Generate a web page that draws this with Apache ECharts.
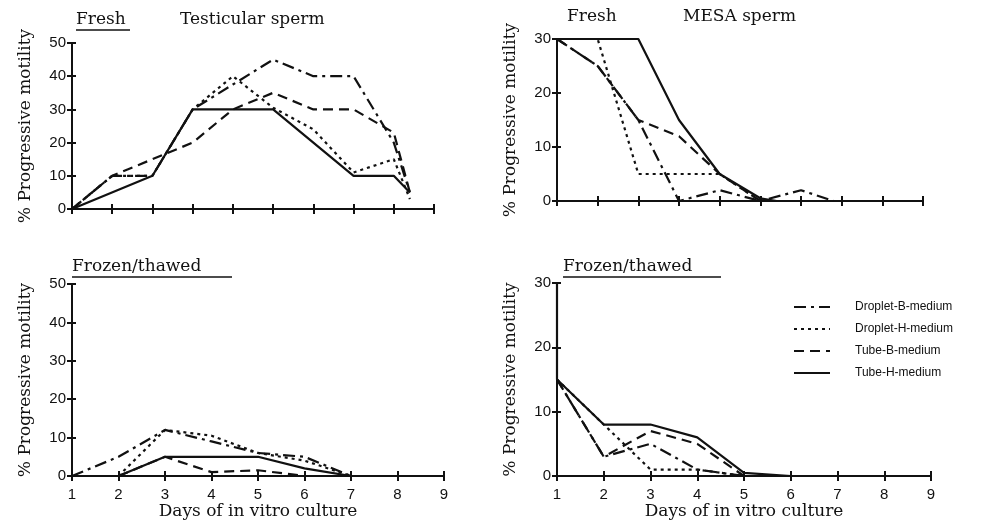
<!DOCTYPE html>
<html>
<head>
<meta charset="utf-8">
<script src="https://cdn.jsdelivr.net/npm/echarts@6/dist/echarts.min.js"></script>
<style>
  html, body { margin: 0; padding: 0; background: #fff; }
  #chart { width: 991px; height: 528px; }
</style>
</head>
<body>
<div id="chart"></div>
<script>
// series names (legend order)
const seriesNames = ['Droplet-B-medium', 'Droplet-H-medium', 'Tube-B-medium', 'Tube-H-medium'];

// fresh testicular sperm [day, %]
const tlDropletB = [[1, 0], [2, 10], [3, 10], [4, 30], [5, 37.5], [6, 45], [7, 40], [8, 40], [9, 20], [9.4, 5]];
const tlDropletH = [[1, 0], [2, 10], [3, 10], [4, 30], [5, 40], [6, 30.5], [7, 24], [8, 11], [9, 15], [9.4, 3]];
const tlTubeB = [[1, 0], [2, 10], [3, 15], [4, 20], [5, 30], [6, 35], [7, 30], [8, 30], [9, 23], [9.4, 5]];
const tlTubeH = [[1, 0], [3, 10], [4, 30], [6, 30], [8, 10], [9, 10], [9.4, 5]];

// fresh MESA sperm
const trDropletB = [[1, 30], [2, 25], [3, 15], [4, 0], [5, 2], [6, 0], [7, 2], [7.8, 0]];
const trDropletH = [[1, 30], [2, 30], [3, 5], [4, 5], [5, 5], [6, 0]];
const trTubeB = [[1, 30], [2, 25], [3, 15], [4, 12], [5, 5], [6, 0]];
const trTubeH = [[1, 30], [3, 30], [4, 15], [5, 5], [6, 0.5], [6.4, 0]];

// frozen/thawed testicular sperm
const blDropletB = [[1, 0], [2, 5], [3, 12], [4, 9], [5, 6], [6, 5], [7, 0]];
const blDropletH = [[2, 0], [3, 12], [4, 10.5], [5, 6], [6, 4], [7, 0]];
const blTubeB = [[2, 0], [3, 5], [4, 1], [5, 1.5], [6, 0]];
const blTubeH = [[2, 0], [3, 5], [5, 5], [6, 2], [7, 0]];

// frozen/thawed MESA sperm
const brDropletB = [[1, 15], [2, 3], [3, 5], [4, 1], [5, 0], [6, 0]];
const brDropletH = [[1, 15], [2, 8], [3, 1], [4, 1], [5, 0]];
const brTubeB = [[1, 15], [2, 3], [3, 7], [4, 5], [5, 0]];
const brTubeH = [[1, 30], [1, 15], [2, 8], [3, 8], [4, 6], [5, 0.5], [6, 0]];

const dayTicks = [1, 2, 3, 4, 5, 6, 7, 8, 9];

const chart = echarts.init(document.getElementById('chart'));

const ink = '#111';
const serif = '"DejaVu Serif", serif';
const sans = '"Liberation Sans", sans-serif';
const dashes = [[12, 5, 3, 5], [3, 4], [10, 6], 'solid'];

const grids = [
  { left: 72, top: 43, width: 362, height: 166 },
  { left: 557, top: 39, width: 366, height: 162 },
  { left: 72, top: 284, width: 372, height: 192 },
  { left: 557, top: 283, width: 374, height: 193 }
];
const yMax = [50, 30, 50, 30];
const xMax = [10, 10, 9, 9];
const panelData = [
  [tlDropletB, tlDropletH, tlTubeB, tlTubeH],
  [trDropletB, trDropletH, trTubeB, trTubeH],
  [blDropletB, blDropletH, blTubeB, blTubeH],
  [brDropletB, brDropletH, brTubeB, brTubeH]
];

const xAxes = [];
const yAxes = [];
grids.forEach((g, i) => {
  const bottomRow = i >= 2;
  xAxes.push({
    type: 'value', gridIndex: i, position: 'bottom', min: 1, max: xMax[i], interval: 1,
    axisLine: { lineStyle: { color: ink, width: 2 } },
    axisTick: { show: true, length: 5, lineStyle: { color: ink, width: 2 } },
    axisLabel: {
      show: bottomRow, color: ink, fontFamily: sans, fontSize: 15, margin: 11,
      formatter: v => (dayTicks.indexOf(v) >= 0 ? String(v) : '')
    },
    splitLine: { show: false },
    name: bottomRow ? 'Days of in vitro culture' : '',
    nameLocation: 'middle', nameGap: 26,
    nameTextStyle: { color: ink, fontFamily: serif, fontSize: 17 }
  });
  yAxes.push({
    type: 'value', gridIndex: i, position: 'left', min: 0, max: yMax[i], interval: 10,
    axisLine: { show: true, lineStyle: { color: ink, width: 2 } },
    axisTick: { show: true, length: 5, lineStyle: { color: ink, width: 2 } },
    axisLabel: { color: ink, fontFamily: sans, fontSize: 15, margin: 6 },
    splitLine: { show: false },
    name: '% Progressive motility',
    nameLocation: 'middle', nameGap: 38, nameRotate: 90,
    nameTextStyle: { color: ink, fontFamily: serif, fontSize: 17 }
  });
});
// inner half of the crossing ticks
grids.forEach((g, i) => {
  xAxes.push({
    type: 'value', gridIndex: i, position: 'bottom', offset: 0, min: 1, max: xMax[i], interval: 1,
    axisLine: { show: false },
    axisTick: { show: true, inside: true, length: 5, lineStyle: { color: ink, width: 2 } },
    axisLabel: { show: false }, splitLine: { show: false }
  });
  yAxes.push({
    type: 'value', gridIndex: i, position: 'left', offset: 0, min: 0, max: yMax[i], interval: 10,
    axisLine: { show: false },
    axisTick: { show: true, inside: true, length: 4, lineStyle: { color: ink, width: 2 } },
    axisLabel: { show: false }, splitLine: { show: false }
  });
});

const series = [];
panelData.forEach((set, i) => {
  set.forEach((data, k) => {
    series.push({
      name: seriesNames[k],
      type: 'line',
      xAxisIndex: i,
      yAxisIndex: i,
      data: data,
      symbol: 'none',
      animation: false,
      lineStyle: { color: ink, width: 2.2, type: dashes[k] },
      itemStyle: { color: ink }
    });
  });
});

const titleFont = '17px ' + serif;
const graphic = [
  { type: 'text', left: 76, top: 11, style: { text: 'Fresh', font: titleFont, fill: ink } },
  { type: 'line', shape: { x1: 76, y1: 30, x2: 130, y2: 30 }, style: { stroke: ink, lineWidth: 1.5 } },
  { type: 'text', left: 180, top: 11, style: { text: 'Testicular sperm', font: titleFont, fill: ink } },
  { type: 'text', left: 567, top: 8, style: { text: 'Fresh', font: titleFont, fill: ink } },
  { type: 'text', left: 683, top: 8, style: { text: 'MESA sperm', font: titleFont, fill: ink } },
  { type: 'text', left: 72, top: 258, style: { text: 'Frozen/thawed', font: titleFont, fill: ink } },
  { type: 'line', shape: { x1: 72, y1: 277, x2: 232, y2: 277 }, style: { stroke: ink, lineWidth: 1.5 } },
  { type: 'text', left: 563, top: 258, style: { text: 'Frozen/thawed', font: titleFont, fill: ink } },
  { type: 'line', shape: { x1: 563, y1: 277, x2: 721, y2: 277 }, style: { stroke: ink, lineWidth: 1.5 } }
];

chart.setOption({
  animation: false,
  backgroundColor: '#fff',
  grid: grids,
  xAxis: xAxes,
  yAxis: yAxes,
  series: series,
  graphic: graphic,
  legend: {
    data: seriesNames,
    orient: 'vertical',
    left: 788,
    top: 296,
    itemWidth: 36,
    itemHeight: 14,
    itemGap: 10,
    itemStyle: { opacity: 0 },
    textStyle: { color: ink, fontFamily: sans, fontSize: 12, padding: [0, 0, 0, 20] }
  }
});
</script>
</body>
</html>
